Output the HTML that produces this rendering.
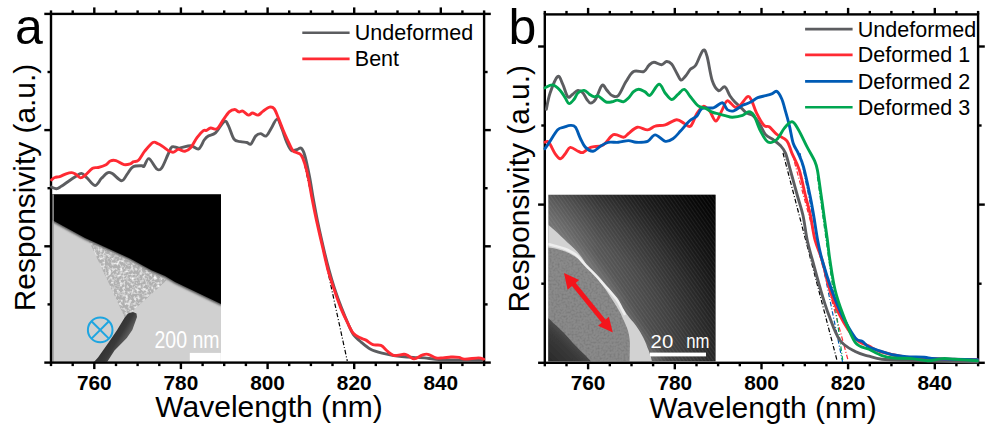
<!DOCTYPE html>
<html><head><meta charset="utf-8"><style>
html,body{margin:0;padding:0;background:#fff;width:995px;height:435px;overflow:hidden}
svg{display:block}
.tl{font-family:"Liberation Sans",sans-serif;font-weight:bold;font-size:20.8px}
.lg{font-family:"Liberation Sans",sans-serif;font-size:21.5px}
text{font-family:"Liberation Sans",sans-serif}
</style></head><body>
<svg width="995" height="435" viewBox="0 0 995 435">
<defs>
<radialGradient id="gb" gradientUnits="userSpaceOnUse" cx="520" cy="400" r="290">
<stop offset="0.5" stop-color="#8a8a8a"/><stop offset="0.6" stop-color="#7a7a7a"/><stop offset="0.7" stop-color="#5c5c5c"/><stop offset="0.8" stop-color="#333"/><stop offset="0.92" stop-color="#101010"/><stop offset="1" stop-color="#000"/>
</radialGradient>
<linearGradient id="gx" gradientUnits="userSpaceOnUse" x1="548" y1="0" x2="716" y2="0">
<stop offset="0" stop-color="#000" stop-opacity="0"/><stop offset="0.3" stop-color="#000" stop-opacity="0.3"/><stop offset="1" stop-color="#000" stop-opacity="0.6"/>
</linearGradient>
<linearGradient id="gw" gradientUnits="userSpaceOnUse" x1="110" y1="330" x2="128" y2="341">
<stop offset="0" stop-color="#2e2e2e"/><stop offset="0.55" stop-color="#3a3a3a"/><stop offset="1" stop-color="#6a6a6a"/>
</linearGradient>
<linearGradient id="gcore" gradientUnits="userSpaceOnUse" x1="550" y1="362" x2="575" y2="335">
<stop offset="0" stop-color="#2a2a2a"/><stop offset="0.6" stop-color="#3a3a3a"/><stop offset="1" stop-color="#555"/>
</linearGradient>
<pattern id="lat" patternUnits="userSpaceOnUse" width="3" height="3" patternTransform="rotate(55)">
<rect x="0" y="0" width="3" height="1" fill="#fff" fill-opacity="0.07"/>
</pattern>
<filter id="bl1" x="-10%" y="-10%" width="120%" height="120%"><feGaussianBlur stdDeviation="0.7"/></filter>
<filter id="bl3" x="-20%" y="-20%" width="140%" height="140%"><feGaussianBlur stdDeviation="5"/></filter>
<filter id="nz2" x="0" y="0" width="100%" height="100%">
<feTurbulence type="fractalNoise" baseFrequency="0.5" numOctaves="2" seed="7" result="t"/>
<feColorMatrix in="t" type="matrix" values="0 0 0 0 0  0 0 0 0 0  0 0 0 0 0  0 0 0 -0.6 0.35" result="n"/>
<feComposite in="n" in2="SourceGraphic" operator="in" result="nn"/>
<feMerge><feMergeNode in="SourceGraphic"/><feMergeNode in="nn"/></feMerge>
</filter>
<filter id="nz" x="0" y="0" width="100%" height="100%">
<feTurbulence type="fractalNoise" baseFrequency="0.35" numOctaves="2" seed="4" result="t"/>
<feColorMatrix in="t" type="matrix" values="0 0 0 0 1  0 0 0 0 1  0 0 0 0 1  0 0 0 -2.2 1.25" result="n"/>
<feComposite in="n" in2="SourceGraphic" operator="in" result="nn"/>
<feMerge><feMergeNode in="SourceGraphic"/><feMergeNode in="nn"/></feMerge>
</filter>
<filter id="bl" x="-10%" y="-10%" width="120%" height="120%"><feGaussianBlur stdDeviation="1.2"/></filter>
<clipPath id="ca"><rect x="52.2" y="194.3" width="168.8" height="167.5"/></clipPath>
<clipPath id="cb"><rect x="548.3" y="194.8" width="167.2" height="166.5"/></clipPath>
</defs>
<rect width="995" height="435" fill="#fff"/>
<g clip-path="url(#ca)">
<rect x="52" y="194" width="170" height="170" fill="#d0d0d0"/>
<polygon points="88.9,240.9 167,280 125,318" fill="#b0b0b0" filter="url(#nz)"/>
<polyline points="52,220 85,237.9 129.9,258.4 151.4,270.2 165,276 175,281.9 222,304.5" fill="none" stroke="#444" stroke-width="3" filter="url(#bl)"/>
<polygon points="52,194 222,194 222,304.5 175,281.9 165,276 151.4,270.2 129.9,258.4 85,237.9 52,220" fill="#000" filter="url(#bl1)"/>
<rect x="52.2" y="194.3" width="1.6" height="168" fill="#a0a0a0"/>
<polygon points="124.7,317.4 128,313.5 133,312 136.5,313.5 137,317 132.3,329.9 126.8,338.1 114.5,350.6 106.5,363 93,363 98,357.5 108.8,342.3 117.1,329.9" fill="url(#gw)"/>
<circle cx="100.2" cy="329.9" r="12.3" fill="none" stroke="#1ea5e0" stroke-width="2"/>
<line x1="91.5" y1="321.2" x2="108.9" y2="338.6" stroke="#1ea5e0" stroke-width="2"/>
<line x1="108.9" y1="321.2" x2="91.5" y2="338.6" stroke="#1ea5e0" stroke-width="2"/>
<text x="154.5" y="348" font-size="24.5" fill="#fff" textLength="65" lengthAdjust="spacingAndGlyphs">200 nm</text>
<rect x="189.8" y="352.9" width="31" height="8" fill="#fff"/>
</g>
<rect x="546.5" y="193.3" width="170.5" height="169.5" fill="#fff"/>
<g clip-path="url(#cb)">
<rect x="548" y="194" width="170" height="170" fill="url(#gb)"/>
<rect x="548" y="194" width="170" height="170" fill="url(#gx)"/>
<rect x="548" y="194" width="170" height="170" fill="url(#lat)"/>
<path d="M548,232 C565,238 578,246 590,258 C602,270 615,288 625,306 C635,322 650,340 664,364 L548,364 Z" fill="#8e8e8e" opacity="0.45" filter="url(#bl3)"/>
<path d="M548,224.7 C556,231 566,241 573.6,248.1 C580,254 585,262 588.3,267.9 C595,275 602,282 607.6,288.6 C614,296 619,304 624,310 C628,316 631,320 633.6,322.4 C637,327 640,331 641.7,334.8 C644,339 646,343 647.3,347.2 C649,351 651,356 652.5,364 L548,364 Z" fill="#d2d2d2"/>
<path d="M548,247.4 C554,247.8 560,249.5 565.3,251.6 C572,254.5 578,258 581.9,261.9 C586,265 588,268 590.1,270.2 C597,277 608,292 614.3,302.8 C619,310 622,316 622.8,318.5 C626,325 628,330 628.5,332.8 C629.5,337 630,342 629.9,342.7 L629.5,364 L548,364 Z" fill="#8a8a8a" filter="url(#nz2)"/>
<path d="M548,244 C556,246 562,247.5 566.7,249.5 C571,251.5 575,253.5 577.7,256.4 C582,261 585,265 588.3,267.9 C592,271.5 595,274.5 597.9,277.6 C601,281 604,285 607.6,288.6 C611,292.5 613,295 615.9,298.3 C618,301 620,305 621.4,307.9 C623,311 624,313 625,315" fill="none" stroke="#eeeeee" stroke-width="2.6" filter="url(#bl1)"/>
<path d="M548,318 C551,320 552,322 554.8,324.3 C558,327 560,329.5 563.6,332.4 C567,336 570,339.5 572.5,342.6 C576,346 578,348.5 581.3,351.5 C584,354 587,357 590.1,360.3 L592,364 L548,364 Z" fill="url(#gcore)" filter="url(#bl1)"/>
<text x="650.6" y="348.2" font-size="19" fill="#fff" textLength="22.6" lengthAdjust="spacingAndGlyphs">20</text>
<text x="686.2" y="348.2" font-size="19.5" fill="#fff" textLength="23.2" lengthAdjust="spacingAndGlyphs">nm</text>
<rect x="650" y="352.6" width="56" height="3.8" fill="#fff"/>
<line x1="571" y1="281" x2="606" y2="324" stroke="#f4151c" stroke-width="5"/>
<polygon points="564,273.1 579.2,280 567.6,289.8" fill="#f4151c"/>
<polygon points="612.8,332.4 598.1,325.7 608.9,316.7" fill="#f4151c"/>
</g>
<g font-family="Liberation Sans, sans-serif">
<rect x="51.0" y="13.9" width="433.1" height="348.7" fill="none" stroke="#000" stroke-width="2.4"/>
<line x1="51.0" y1="362.6" x2="51.0" y2="366.1" stroke="#000" stroke-width="2.4"/>
<line x1="51.0" y1="13.9" x2="51.0" y2="10.4" stroke="#000" stroke-width="2.4"/>
<line x1="72.7" y1="362.6" x2="72.7" y2="366.1" stroke="#000" stroke-width="2.4"/>
<line x1="72.7" y1="13.9" x2="72.7" y2="10.4" stroke="#000" stroke-width="2.4"/>
<line x1="94.3" y1="362.6" x2="94.3" y2="369.1" stroke="#000" stroke-width="2.4"/>
<line x1="94.3" y1="13.9" x2="94.3" y2="7.4" stroke="#000" stroke-width="2.4"/>
<line x1="116.0" y1="362.6" x2="116.0" y2="366.1" stroke="#000" stroke-width="2.4"/>
<line x1="116.0" y1="13.9" x2="116.0" y2="10.4" stroke="#000" stroke-width="2.4"/>
<line x1="137.6" y1="362.6" x2="137.6" y2="366.1" stroke="#000" stroke-width="2.4"/>
<line x1="137.6" y1="13.9" x2="137.6" y2="10.4" stroke="#000" stroke-width="2.4"/>
<line x1="159.3" y1="362.6" x2="159.3" y2="366.1" stroke="#000" stroke-width="2.4"/>
<line x1="159.3" y1="13.9" x2="159.3" y2="10.4" stroke="#000" stroke-width="2.4"/>
<line x1="180.9" y1="362.6" x2="180.9" y2="369.1" stroke="#000" stroke-width="2.4"/>
<line x1="180.9" y1="13.9" x2="180.9" y2="7.4" stroke="#000" stroke-width="2.4"/>
<line x1="202.6" y1="362.6" x2="202.6" y2="366.1" stroke="#000" stroke-width="2.4"/>
<line x1="202.6" y1="13.9" x2="202.6" y2="10.4" stroke="#000" stroke-width="2.4"/>
<line x1="224.2" y1="362.6" x2="224.2" y2="366.1" stroke="#000" stroke-width="2.4"/>
<line x1="224.2" y1="13.9" x2="224.2" y2="10.4" stroke="#000" stroke-width="2.4"/>
<line x1="245.9" y1="362.6" x2="245.9" y2="366.1" stroke="#000" stroke-width="2.4"/>
<line x1="245.9" y1="13.9" x2="245.9" y2="10.4" stroke="#000" stroke-width="2.4"/>
<line x1="267.6" y1="362.6" x2="267.6" y2="369.1" stroke="#000" stroke-width="2.4"/>
<line x1="267.6" y1="13.9" x2="267.6" y2="7.4" stroke="#000" stroke-width="2.4"/>
<line x1="289.2" y1="362.6" x2="289.2" y2="366.1" stroke="#000" stroke-width="2.4"/>
<line x1="289.2" y1="13.9" x2="289.2" y2="10.4" stroke="#000" stroke-width="2.4"/>
<line x1="310.9" y1="362.6" x2="310.9" y2="366.1" stroke="#000" stroke-width="2.4"/>
<line x1="310.9" y1="13.9" x2="310.9" y2="10.4" stroke="#000" stroke-width="2.4"/>
<line x1="332.5" y1="362.6" x2="332.5" y2="366.1" stroke="#000" stroke-width="2.4"/>
<line x1="332.5" y1="13.9" x2="332.5" y2="10.4" stroke="#000" stroke-width="2.4"/>
<line x1="354.2" y1="362.6" x2="354.2" y2="369.1" stroke="#000" stroke-width="2.4"/>
<line x1="354.2" y1="13.9" x2="354.2" y2="7.4" stroke="#000" stroke-width="2.4"/>
<line x1="375.8" y1="362.6" x2="375.8" y2="366.1" stroke="#000" stroke-width="2.4"/>
<line x1="375.8" y1="13.9" x2="375.8" y2="10.4" stroke="#000" stroke-width="2.4"/>
<line x1="397.5" y1="362.6" x2="397.5" y2="366.1" stroke="#000" stroke-width="2.4"/>
<line x1="397.5" y1="13.9" x2="397.5" y2="10.4" stroke="#000" stroke-width="2.4"/>
<line x1="419.1" y1="362.6" x2="419.1" y2="366.1" stroke="#000" stroke-width="2.4"/>
<line x1="419.1" y1="13.9" x2="419.1" y2="10.4" stroke="#000" stroke-width="2.4"/>
<line x1="440.8" y1="362.6" x2="440.8" y2="369.1" stroke="#000" stroke-width="2.4"/>
<line x1="440.8" y1="13.9" x2="440.8" y2="7.4" stroke="#000" stroke-width="2.4"/>
<line x1="462.4" y1="362.6" x2="462.4" y2="366.1" stroke="#000" stroke-width="2.4"/>
<line x1="462.4" y1="13.9" x2="462.4" y2="10.4" stroke="#000" stroke-width="2.4"/>
<line x1="484.1" y1="362.6" x2="484.1" y2="366.1" stroke="#000" stroke-width="2.4"/>
<line x1="484.1" y1="13.9" x2="484.1" y2="10.4" stroke="#000" stroke-width="2.4"/>
<line x1="51.0" y1="13.9" x2="44.3" y2="13.9" stroke="#000" stroke-width="2.4"/>
<line x1="484.1" y1="13.9" x2="490.8" y2="13.9" stroke="#000" stroke-width="2.4"/>
<line x1="51.0" y1="130.1" x2="44.3" y2="130.1" stroke="#000" stroke-width="2.4"/>
<line x1="484.1" y1="130.1" x2="490.8" y2="130.1" stroke="#000" stroke-width="2.4"/>
<line x1="51.0" y1="246.3" x2="44.3" y2="246.3" stroke="#000" stroke-width="2.4"/>
<line x1="484.1" y1="246.3" x2="490.8" y2="246.3" stroke="#000" stroke-width="2.4"/>
<line x1="51.0" y1="362.6" x2="44.3" y2="362.6" stroke="#000" stroke-width="2.4"/>
<line x1="484.1" y1="362.6" x2="490.8" y2="362.6" stroke="#000" stroke-width="2.4"/>
<line x1="51.0" y1="72.0" x2="47.5" y2="72.0" stroke="#000" stroke-width="2.4"/>
<line x1="484.1" y1="72.0" x2="487.6" y2="72.0" stroke="#000" stroke-width="2.4"/>
<line x1="51.0" y1="188.2" x2="47.5" y2="188.2" stroke="#000" stroke-width="2.4"/>
<line x1="484.1" y1="188.2" x2="487.6" y2="188.2" stroke="#000" stroke-width="2.4"/>
<line x1="51.0" y1="304.4" x2="47.5" y2="304.4" stroke="#000" stroke-width="2.4"/>
<line x1="484.1" y1="304.4" x2="487.6" y2="304.4" stroke="#000" stroke-width="2.4"/>
<text x="94.3" y="390.3" class="tl" text-anchor="middle">760</text>
<text x="180.9" y="390.3" class="tl" text-anchor="middle">780</text>
<text x="267.6" y="390.3" class="tl" text-anchor="middle">800</text>
<text x="354.2" y="390.3" class="tl" text-anchor="middle">820</text>
<text x="440.8" y="390.3" class="tl" text-anchor="middle">840</text>
<rect x="544.8" y="14.4" width="433.3" height="348.4" fill="none" stroke="#000" stroke-width="2.4"/>
<line x1="544.8" y1="362.8" x2="544.8" y2="366.3" stroke="#000" stroke-width="2.4"/>
<line x1="544.8" y1="14.4" x2="544.8" y2="10.9" stroke="#000" stroke-width="2.4"/>
<line x1="566.5" y1="362.8" x2="566.5" y2="366.3" stroke="#000" stroke-width="2.4"/>
<line x1="566.5" y1="14.4" x2="566.5" y2="10.9" stroke="#000" stroke-width="2.4"/>
<line x1="588.1" y1="362.8" x2="588.1" y2="369.3" stroke="#000" stroke-width="2.4"/>
<line x1="588.1" y1="14.4" x2="588.1" y2="7.9" stroke="#000" stroke-width="2.4"/>
<line x1="609.8" y1="362.8" x2="609.8" y2="366.3" stroke="#000" stroke-width="2.4"/>
<line x1="609.8" y1="14.4" x2="609.8" y2="10.9" stroke="#000" stroke-width="2.4"/>
<line x1="631.5" y1="362.8" x2="631.5" y2="366.3" stroke="#000" stroke-width="2.4"/>
<line x1="631.5" y1="14.4" x2="631.5" y2="10.9" stroke="#000" stroke-width="2.4"/>
<line x1="653.1" y1="362.8" x2="653.1" y2="366.3" stroke="#000" stroke-width="2.4"/>
<line x1="653.1" y1="14.4" x2="653.1" y2="10.9" stroke="#000" stroke-width="2.4"/>
<line x1="674.8" y1="362.8" x2="674.8" y2="369.3" stroke="#000" stroke-width="2.4"/>
<line x1="674.8" y1="14.4" x2="674.8" y2="7.9" stroke="#000" stroke-width="2.4"/>
<line x1="696.5" y1="362.8" x2="696.5" y2="366.3" stroke="#000" stroke-width="2.4"/>
<line x1="696.5" y1="14.4" x2="696.5" y2="10.9" stroke="#000" stroke-width="2.4"/>
<line x1="718.1" y1="362.8" x2="718.1" y2="366.3" stroke="#000" stroke-width="2.4"/>
<line x1="718.1" y1="14.4" x2="718.1" y2="10.9" stroke="#000" stroke-width="2.4"/>
<line x1="739.8" y1="362.8" x2="739.8" y2="366.3" stroke="#000" stroke-width="2.4"/>
<line x1="739.8" y1="14.4" x2="739.8" y2="10.9" stroke="#000" stroke-width="2.4"/>
<line x1="761.5" y1="362.8" x2="761.5" y2="369.3" stroke="#000" stroke-width="2.4"/>
<line x1="761.5" y1="14.4" x2="761.5" y2="7.9" stroke="#000" stroke-width="2.4"/>
<line x1="783.1" y1="362.8" x2="783.1" y2="366.3" stroke="#000" stroke-width="2.4"/>
<line x1="783.1" y1="14.4" x2="783.1" y2="10.9" stroke="#000" stroke-width="2.4"/>
<line x1="804.8" y1="362.8" x2="804.8" y2="366.3" stroke="#000" stroke-width="2.4"/>
<line x1="804.8" y1="14.4" x2="804.8" y2="10.9" stroke="#000" stroke-width="2.4"/>
<line x1="826.4" y1="362.8" x2="826.4" y2="366.3" stroke="#000" stroke-width="2.4"/>
<line x1="826.4" y1="14.4" x2="826.4" y2="10.9" stroke="#000" stroke-width="2.4"/>
<line x1="848.1" y1="362.8" x2="848.1" y2="369.3" stroke="#000" stroke-width="2.4"/>
<line x1="848.1" y1="14.4" x2="848.1" y2="7.9" stroke="#000" stroke-width="2.4"/>
<line x1="869.8" y1="362.8" x2="869.8" y2="366.3" stroke="#000" stroke-width="2.4"/>
<line x1="869.8" y1="14.4" x2="869.8" y2="10.9" stroke="#000" stroke-width="2.4"/>
<line x1="891.4" y1="362.8" x2="891.4" y2="366.3" stroke="#000" stroke-width="2.4"/>
<line x1="891.4" y1="14.4" x2="891.4" y2="10.9" stroke="#000" stroke-width="2.4"/>
<line x1="913.1" y1="362.8" x2="913.1" y2="366.3" stroke="#000" stroke-width="2.4"/>
<line x1="913.1" y1="14.4" x2="913.1" y2="10.9" stroke="#000" stroke-width="2.4"/>
<line x1="934.8" y1="362.8" x2="934.8" y2="369.3" stroke="#000" stroke-width="2.4"/>
<line x1="934.8" y1="14.4" x2="934.8" y2="7.9" stroke="#000" stroke-width="2.4"/>
<line x1="956.4" y1="362.8" x2="956.4" y2="366.3" stroke="#000" stroke-width="2.4"/>
<line x1="956.4" y1="14.4" x2="956.4" y2="10.9" stroke="#000" stroke-width="2.4"/>
<line x1="978.1" y1="362.8" x2="978.1" y2="366.3" stroke="#000" stroke-width="2.4"/>
<line x1="978.1" y1="14.4" x2="978.1" y2="10.9" stroke="#000" stroke-width="2.4"/>
<line x1="544.8" y1="46.5" x2="538.1" y2="46.5" stroke="#000" stroke-width="2.4"/>
<line x1="978.1" y1="46.5" x2="984.8" y2="46.5" stroke="#000" stroke-width="2.4"/>
<line x1="544.8" y1="204.6" x2="538.1" y2="204.6" stroke="#000" stroke-width="2.4"/>
<line x1="978.1" y1="204.6" x2="984.8" y2="204.6" stroke="#000" stroke-width="2.4"/>
<line x1="544.8" y1="362.8" x2="538.1" y2="362.8" stroke="#000" stroke-width="2.4"/>
<line x1="978.1" y1="362.8" x2="984.8" y2="362.8" stroke="#000" stroke-width="2.4"/>
<line x1="544.8" y1="125.5" x2="541.3" y2="125.5" stroke="#000" stroke-width="2.4"/>
<line x1="978.1" y1="125.5" x2="981.6" y2="125.5" stroke="#000" stroke-width="2.4"/>
<line x1="544.8" y1="283.7" x2="541.3" y2="283.7" stroke="#000" stroke-width="2.4"/>
<line x1="978.1" y1="283.7" x2="981.6" y2="283.7" stroke="#000" stroke-width="2.4"/>
<text x="588.1" y="390.3" class="tl" text-anchor="middle">760</text>
<text x="674.8" y="390.3" class="tl" text-anchor="middle">780</text>
<text x="761.5" y="390.3" class="tl" text-anchor="middle">800</text>
<text x="848.1" y="390.3" class="tl" text-anchor="middle">820</text>
<text x="934.8" y="390.3" class="tl" text-anchor="middle">840</text>
<line x1="302.5" y1="155" x2="347.3" y2="361" stroke="#000" stroke-width="1.2" stroke-dasharray="4.5,2,1,2"/>
<line x1="783" y1="153" x2="836.9" y2="360" stroke="#000" stroke-width="1.2" stroke-dasharray="4.5,2,1,2"/>
<line x1="792" y1="153" x2="848" y2="360" stroke="#ff2a33" stroke-width="1.2" stroke-dasharray="4.5,2,1,2"/>
<line x1="800" y1="153" x2="842.6" y2="362" stroke="#005bb5" stroke-width="1.2" stroke-dasharray="4.5,2,1,2"/>
<line x1="817.4" y1="177" x2="842.7" y2="360" stroke="#00a651" stroke-width="1.2" stroke-dasharray="4.5,2,1,2"/>
<path d="M51.6,187.1 C52.4,187.4 54.8,188.8 56.4,188.7 C58.0,188.6 59.1,187.6 61.3,186.3 C63.4,185.0 66.9,182.3 69.3,180.7 C71.7,179.1 73.7,177.8 75.7,176.6 C77.7,175.4 79.5,173.2 81.4,173.4 C83.3,173.6 84.7,175.9 87.0,177.9 C89.3,179.9 92.6,185.4 95.0,185.5 C97.4,185.6 99.3,180.5 101.5,178.3 C103.7,176.2 106.0,173.3 107.9,172.6 C109.8,171.8 110.4,172.5 112.7,173.8 C115.0,175.2 119.2,180.6 121.6,180.7 C124.0,180.8 125.3,176.5 127.2,174.2 C129.1,171.9 130.4,168.3 132.8,166.9 C135.2,165.5 139.8,165.8 141.7,165.7 C143.6,165.6 142.9,167.4 144.1,166.2 C145.3,165.0 146.8,158.1 148.9,158.6 C151.1,159.1 154.8,167.6 157.0,169.1 C159.2,170.6 160.0,170.2 161.8,167.8 C163.6,165.4 166.3,158.0 168.0,154.5 C169.7,151.0 170.2,147.9 172.1,146.8 C174.0,145.7 176.2,148.3 179.3,148.1 C182.4,147.9 187.4,145.6 190.6,145.7 C193.8,145.8 196.3,149.8 198.6,148.9 C200.9,148.0 202.6,142.2 204.2,140.0 C205.8,137.8 206.4,137.2 208.3,136.0 C210.2,134.8 212.8,135.2 215.5,132.8 C218.2,130.4 222.2,122.7 224.3,121.5 C226.5,120.3 226.8,122.6 228.4,125.6 C230.0,128.5 232.0,136.5 234.0,139.2 C236.0,141.9 238.2,141.0 240.4,141.6 C242.6,142.2 245.2,142.1 246.9,142.5 C248.7,142.9 249.4,145.2 250.9,144.1 C252.4,143.0 254.1,137.8 255.7,136.0 C257.3,134.2 258.8,133.6 260.5,133.6 C262.2,133.6 264.4,136.8 266.2,136.0 C267.9,135.2 269.2,131.6 271.0,128.8 C272.8,126.0 275.3,119.1 277.1,119.1 C278.9,119.1 280.3,125.0 281.9,128.8 C283.5,132.6 285.1,138.5 286.7,142.1 C288.3,145.7 289.7,149.3 291.5,150.5 C293.3,151.7 296.0,149.7 297.6,149.3 C299.2,148.9 300.0,147.1 301.2,148.1 C302.4,149.1 303.4,150.5 304.8,155.3 C306.2,160.1 308.2,169.8 309.6,177.0 C311.0,184.2 312.0,191.5 313.3,198.8 C314.6,206.1 315.8,212.8 317.5,221.0 C319.2,229.2 321.6,239.8 323.5,248.0 C325.4,256.2 327.2,263.3 329.0,270.0 C330.8,276.7 332.4,282.1 334.5,288.4 C336.6,294.7 339.2,302.0 341.5,307.9 C343.8,313.8 346.0,319.1 348.0,323.5 C350.0,327.9 351.1,331.2 353.3,334.4 C355.5,337.5 358.5,339.9 361.4,342.4 C364.3,344.9 367.2,347.5 370.6,349.3 C374.1,351.1 378.3,352.2 382.1,353.2 C385.9,354.2 388.5,354.8 393.6,355.5 C398.8,356.2 407.9,357.0 413.0,357.4 C418.1,357.8 419.7,357.5 424.5,357.9 C429.3,358.3 432.1,359.3 441.7,359.7 C451.3,360.1 475.3,360.1 482.0,360.2" fill="none" stroke="#5c5d60" stroke-width="2.90" stroke-linejoin="round" stroke-linecap="round"/>
<path d="M51.6,179.9 C52.1,179.5 53.4,178.1 54.8,177.5 C56.1,176.9 57.8,177.2 59.7,176.6 C61.6,176.0 64.1,174.5 66.1,173.8 C68.1,173.1 70.1,172.5 71.7,172.6 C73.3,172.7 74.2,173.3 75.7,174.2 C77.2,175.1 79.0,177.8 80.6,177.9 C82.2,178.0 83.4,176.6 85.4,175.0 C87.4,173.4 90.4,169.6 92.6,168.3 C94.8,167.1 96.1,168.0 98.3,167.5 C100.5,167.0 103.5,166.2 105.5,165.1 C107.5,164.0 108.6,161.8 110.3,161.0 C112.0,160.2 113.6,160.0 115.9,160.6 C118.2,161.2 121.6,164.1 124.0,164.6 C126.4,165.1 128.8,164.3 130.4,163.8 C132.0,163.3 132.2,162.3 133.6,161.7 C134.9,161.1 136.6,162.0 138.5,160.2 C140.4,158.4 142.5,153.8 144.9,150.9 C147.3,148.0 150.8,143.7 152.9,142.5 C155.1,141.3 156.2,143.0 157.8,143.7 C159.4,144.3 160.6,145.1 162.6,146.4 C164.6,147.7 167.8,150.4 169.7,151.3 C171.5,152.2 172.2,152.4 173.7,152.1 C175.2,151.8 176.6,149.5 178.5,149.4 C180.4,149.3 182.9,151.6 184.9,151.3 C186.9,151.0 188.6,150.1 190.6,147.8 C192.6,145.5 194.9,140.4 197.0,137.6 C199.1,134.8 201.8,131.9 203.4,130.7 C205.0,129.5 205.4,130.8 206.6,130.4 C207.8,130.0 208.9,128.3 210.7,128.0 C212.4,127.7 215.1,130.0 217.1,128.8 C219.1,127.6 220.7,123.5 222.7,120.7 C224.7,117.9 227.2,113.8 229.2,111.9 C231.2,110.0 233.2,109.5 234.8,109.5 C236.4,109.5 237.5,111.6 238.8,111.9 C240.1,112.2 241.2,110.6 242.8,111.1 C244.4,111.6 246.9,114.8 248.5,115.1 C250.1,115.4 250.9,113.0 252.5,113.0 C254.1,113.0 256.4,115.4 258.1,115.1 C259.8,114.8 261.0,112.7 262.9,111.4 C264.8,110.1 267.5,107.5 269.4,107.1 C271.3,106.6 272.7,106.9 274.2,108.7 C275.7,110.5 276.8,114.4 278.3,117.9 C279.8,121.5 281.5,126.2 283.1,130.0 C284.7,133.8 286.3,137.4 287.9,140.8 C289.5,144.2 291.2,148.5 292.8,150.5 C294.4,152.5 296.2,152.1 297.6,152.9 C299.0,153.7 300.0,153.5 301.2,155.3 C302.4,157.1 303.6,160.0 304.8,163.8 C306.0,167.6 307.2,172.5 308.4,178.3 C309.6,184.1 310.7,191.7 312.1,198.8 C313.5,205.9 314.8,212.8 316.6,221.0 C318.4,229.2 320.9,239.8 322.8,248.0 C324.7,256.2 326.2,263.3 328.0,270.0 C329.8,276.7 331.7,282.1 333.8,288.4 C335.9,294.7 338.4,302.1 340.7,307.9 C343.0,313.6 345.5,318.7 347.6,322.9 C349.7,327.1 351.2,330.7 353.3,333.2 C355.4,335.7 358.1,336.6 360.2,337.8 C362.3,339.0 363.9,339.0 366.0,340.1 C368.1,341.2 370.4,343.8 372.9,344.7 C375.4,345.6 378.6,344.4 380.9,345.4 C383.2,346.4 385.2,349.2 386.7,350.5 C388.2,351.8 388.7,352.4 390.0,353.3 C391.3,354.2 392.3,355.4 394.6,355.6 C396.9,355.8 401.7,354.4 403.8,354.3 C405.9,354.2 405.5,354.3 407.2,355.1 C408.9,355.9 411.6,358.9 414.1,358.9 C416.6,358.9 419.9,355.9 422.2,355.1 C424.5,354.3 425.6,353.8 427.9,354.3 C430.2,354.8 433.5,357.3 436.0,357.9 C438.5,358.5 440.4,358.0 442.9,357.9 C445.4,357.8 448.2,357.1 450.9,357.0 C453.6,356.9 456.7,357.0 459.0,357.4 C461.3,357.8 461.4,359.0 464.7,359.1 C467.9,359.2 475.3,357.9 478.5,357.9 C481.7,357.9 482.8,358.9 483.7,359.1" fill="none" stroke="#ff2a33" stroke-width="2.90" stroke-linejoin="round" stroke-linecap="round"/>
<path d="M546.3,109.4 C546.9,106.7 548.2,98.5 550.1,93.0 C552.0,87.5 555.6,78.0 557.7,76.5 C559.8,75.0 561.0,80.7 562.7,84.1 C564.4,87.5 566.1,95.1 567.8,96.8 C569.5,98.5 571.1,95.3 572.8,94.2 C574.5,93.1 576.2,90.6 577.9,90.4 C579.6,90.2 581.5,91.5 583.0,93.0 C584.5,94.5 585.5,97.6 586.8,99.3 C588.1,101.0 589.1,103.1 590.6,103.1 C592.1,103.1 593.7,102.2 595.6,99.3 C597.5,96.3 600.1,86.9 602.0,85.4 C603.9,83.9 605.3,88.7 607.0,90.4 C608.7,92.1 610.2,94.7 612.1,95.5 C614.0,96.3 616.1,97.8 618.4,95.5 C620.7,93.2 623.5,85.6 626.0,81.6 C628.5,77.6 630.6,73.2 633.6,71.5 C636.6,69.8 641.2,72.6 643.8,71.6 C646.3,70.6 647.2,66.8 648.9,65.3 C650.6,63.8 651.8,62.4 653.9,62.3 C656.0,62.2 659.4,64.9 661.5,64.8 C663.6,64.7 664.9,61.6 666.6,61.5 C668.3,61.4 669.9,62.1 671.6,64.0 C673.3,65.9 675.1,70.2 676.7,72.9 C678.3,75.6 679.5,79.5 681.0,80.0 C682.5,80.5 684.0,77.8 685.6,76.0 C687.2,74.2 688.9,70.9 690.6,69.1 C692.3,67.3 693.6,68.4 695.7,65.3 C697.8,62.2 701.1,51.8 703.0,50.3 C704.9,48.8 705.6,51.5 707.1,56.5 C708.6,61.5 710.3,74.8 712.2,80.5 C714.1,86.2 716.4,89.5 718.5,90.6 C720.6,91.6 722.9,85.9 724.8,86.8 C726.7,87.7 728.2,93.2 729.9,95.7 C731.6,98.2 733.2,100.2 734.9,102.0 C736.6,103.8 738.2,104.8 740.1,106.6 C742.0,108.4 744.3,111.4 746.4,112.9 C748.5,114.4 750.6,113.7 752.7,115.4 C754.8,117.1 757.0,119.8 759.1,123.0 C761.2,126.2 763.1,131.7 765.4,134.4 C767.7,137.2 770.5,137.6 773.0,139.5 C775.5,141.4 778.5,143.5 780.6,145.8 C782.7,148.1 784.0,149.4 785.6,153.4 C787.2,157.4 788.4,163.1 790.3,170.0 C792.2,176.9 795.1,187.5 797.2,195.0 C799.3,202.5 801.2,207.5 802.9,215.0 C804.6,222.5 805.6,232.5 807.2,240.0 C808.8,247.5 810.1,251.7 812.4,260.0 C814.6,268.3 818.0,280.8 820.7,290.0 C823.4,299.2 825.6,306.7 828.8,315.0 C832.0,323.3 835.3,333.9 839.7,340.0 C844.1,346.1 850.3,348.9 855.2,351.6 C860.1,354.3 864.5,354.9 869.0,356.2 C873.5,357.5 875.8,358.5 882.0,359.2 C888.2,359.9 890.3,359.9 906.2,360.4 C922.1,360.9 965.5,361.7 977.4,362.0" fill="none" stroke="#5c5d60" stroke-width="2.90" stroke-linejoin="round" stroke-linecap="round"/>
<path d="M545.0,142.3 C545.6,142.3 547.1,140.4 548.8,142.3 C550.5,144.2 553.2,150.9 555.1,153.7 C557.0,156.4 558.5,158.8 560.2,158.8 C561.9,158.8 563.6,155.6 565.3,153.7 C567.0,151.8 568.2,147.8 570.3,147.4 C572.4,147.0 575.8,150.3 577.9,151.2 C580.0,152.0 580.9,153.1 583.0,152.5 C585.1,151.9 587.2,148.7 590.6,147.4 C594.0,146.1 599.4,147.0 603.2,144.9 C607.0,142.8 610.0,136.0 613.4,134.7 C616.8,133.4 621.0,137.5 623.5,137.3 C626.0,137.1 626.2,135.2 628.5,133.5 C630.8,131.8 634.2,127.8 637.4,127.2 C640.6,126.6 644.6,130.1 647.6,129.9 C650.6,129.7 652.2,126.9 655.2,126.1 C658.2,125.2 661.7,125.9 665.3,124.8 C668.9,123.7 673.5,119.9 676.7,119.7 C679.9,119.5 682.0,122.4 684.3,123.5 C686.6,124.6 688.5,127.8 690.6,126.1 C692.7,124.4 694.9,116.7 697.0,113.4 C699.1,110.1 701.2,106.7 703.3,106.3 C705.4,105.9 707.5,108.5 709.6,110.9 C711.7,113.4 713.9,121.2 716.0,121.0 C718.1,120.8 720.4,113.0 722.3,109.6 C724.2,106.2 725.2,101.2 727.3,100.8 C729.4,100.4 732.8,106.3 734.9,107.1 C737.0,107.8 738.0,107.1 740.1,105.3 C742.2,103.5 745.8,97.3 747.7,96.5 C749.6,95.7 750.0,97.6 751.5,100.3 C753.0,103.0 754.4,108.7 756.5,112.9 C758.6,117.1 762.0,123.3 764.1,125.6 C766.2,127.9 767.1,125.3 769.2,126.8 C771.3,128.3 773.8,132.1 776.8,134.4 C779.8,136.7 784.4,137.6 786.9,140.8 C789.4,144.0 789.9,148.5 792.0,153.4 C794.1,158.3 797.1,163.1 799.3,170.0 C801.5,176.9 803.4,187.5 805.3,195.0 C807.1,202.5 808.8,207.5 810.4,215.0 C812.0,222.5 813.0,232.5 815.0,240.0 C817.0,247.5 819.6,251.7 822.1,260.0 C824.6,268.3 827.0,280.8 829.9,290.0 C832.8,299.2 835.5,306.9 839.7,315.0 C843.9,323.1 850.3,333.3 855.2,338.5 C860.1,343.7 864.9,343.8 869.0,346.0 C873.1,348.2 873.8,349.6 880.0,351.5 C886.2,353.4 895.8,355.9 906.2,357.2 C916.6,358.4 930.5,358.6 942.4,359.0 C954.3,359.4 971.6,359.5 977.4,359.6" fill="none" stroke="#ff2a33" stroke-width="2.90" stroke-linejoin="round" stroke-linecap="round"/>
<path d="M545.0,148.7 C545.9,147.4 548.0,144.3 550.1,141.1 C552.2,137.9 555.4,132.0 557.7,129.7 C560.0,127.4 561.9,127.9 564.0,127.2 C566.1,126.5 568.4,125.4 570.3,125.4 C572.2,125.4 573.7,125.0 575.4,127.2 C577.1,129.4 578.7,135.1 580.4,138.5 C582.1,141.9 583.4,145.3 585.5,147.4 C587.6,149.5 590.6,151.4 593.1,151.2 C595.6,151.0 598.2,147.6 600.7,146.1 C603.2,144.6 605.3,142.9 608.3,142.3 C611.2,141.7 615.0,142.6 618.4,142.3 C621.8,142.0 625.5,140.6 628.5,140.6 C631.5,140.6 632.9,142.2 636.1,142.3 C639.3,142.4 644.4,142.5 647.6,141.3 C650.8,140.1 652.2,134.9 655.2,134.9 C658.2,134.9 662.3,140.7 665.3,141.3 C668.2,141.9 670.4,140.4 672.9,138.7 C675.4,137.0 677.8,134.0 680.5,131.1 C683.2,128.2 686.6,123.5 689.4,121.0 C692.1,118.5 694.9,118.0 697.0,115.9 C699.1,113.8 699.3,109.8 702.0,108.4 C704.7,107.1 710.0,108.7 713.4,107.8 C716.8,106.9 720.0,102.5 722.3,102.8 C724.6,103.1 725.4,108.2 727.3,109.6 C729.2,110.9 731.2,111.6 733.7,110.9 C736.2,110.2 739.9,106.7 742.6,105.3 C745.4,103.9 747.7,103.6 750.2,102.3 C752.7,101.0 755.3,98.8 757.8,97.7 C760.3,96.6 763.1,96.3 765.4,95.7 C767.7,95.1 769.8,94.6 771.7,93.9 C773.6,93.2 775.1,90.6 776.8,91.4 C778.5,92.2 780.3,95.6 781.8,99.0 C783.3,102.4 784.3,107.2 785.6,111.6 C786.9,116.0 788.1,120.3 789.4,125.6 C790.7,130.9 791.7,138.7 793.2,143.3 C794.7,147.9 796.6,149.5 798.3,153.4 C800.0,157.3 801.6,160.1 803.5,167.0 C805.4,173.9 808.2,187.0 809.9,195.0 C811.6,203.0 812.3,207.5 813.6,215.0 C814.9,222.5 816.2,232.5 817.6,240.0 C819.0,247.5 819.8,251.7 822.1,260.0 C824.5,268.3 828.4,280.8 831.7,290.0 C835.0,299.2 838.1,307.0 842.0,315.0 C845.9,323.0 851.9,333.4 855.2,337.8 C858.6,342.2 859.8,339.8 862.1,341.3 C864.4,342.8 866.1,345.4 869.0,347.0 C871.9,348.6 875.5,349.5 879.7,350.8 C883.9,352.1 889.7,354.0 894.1,355.0 C898.5,356.0 901.2,356.4 906.2,356.8 C911.2,357.2 919.3,356.9 924.3,357.2 C929.3,357.5 927.4,358.4 936.3,358.8 C945.1,359.2 970.5,359.6 977.4,359.8" fill="none" stroke="#005bb5" stroke-width="2.90" stroke-linejoin="round" stroke-linecap="round"/>
<path d="M545.0,87.9 C546.3,87.4 550.1,84.5 552.6,84.9 C555.1,85.3 558.1,88.2 560.2,90.4 C562.3,92.6 563.8,95.8 565.3,98.0 C566.8,100.2 567.6,103.4 569.1,103.6 C570.6,103.8 572.6,101.1 574.1,99.3 C575.6,97.5 576.2,94.5 577.9,93.0 C579.6,91.5 582.3,90.2 584.2,90.4 C586.1,90.6 587.6,93.1 589.3,94.2 C591.0,95.3 592.9,96.5 594.4,96.8 C595.9,97.1 596.3,95.2 598.2,96.0 C600.1,96.8 603.5,100.8 605.8,101.8 C608.1,102.8 610.2,102.1 612.1,101.8 C614.0,101.5 615.3,100.1 617.2,100.1 C619.1,100.1 621.6,102.1 623.5,101.8 C625.4,101.5 626.8,99.7 628.5,98.0 C630.2,96.3 631.9,93.2 633.6,91.7 C635.3,90.2 636.8,89.2 638.7,89.2 C640.6,89.2 643.2,90.9 645.1,91.9 C647.0,92.9 647.8,96.5 650.1,95.2 C652.4,93.9 656.5,84.6 659.0,84.3 C661.5,84.0 663.2,90.7 665.3,93.2 C667.4,95.7 669.5,99.3 671.6,99.5 C673.7,99.7 675.9,96.1 678.0,94.4 C680.1,92.7 682.2,89.0 684.3,89.4 C686.4,89.8 688.3,94.3 690.6,97.0 C692.9,99.7 695.7,103.9 698.2,105.8 C700.7,107.7 703.5,107.3 705.8,108.4 C708.1,109.5 710.1,111.3 712.2,112.2 C714.3,113.1 716.2,113.3 718.5,113.9 C720.8,114.5 723.8,115.4 726.1,115.9 C728.4,116.5 729.6,117.3 732.4,117.2 C735.1,117.1 739.9,116.3 742.6,115.4 C745.4,114.5 747.0,111.6 748.9,111.6 C750.8,111.6 752.1,112.2 754.0,115.4 C755.9,118.6 758.0,126.2 760.3,130.6 C762.6,135.0 765.1,140.5 767.9,142.0 C770.6,143.5 774.0,141.8 776.8,139.5 C779.5,137.2 781.9,131.0 784.4,128.1 C786.9,125.1 789.7,121.6 792.0,121.8 C794.3,122.0 795.8,125.2 798.3,129.4 C800.8,133.6 804.5,141.9 807.2,147.1 C809.9,152.3 812.8,156.9 814.5,160.7 C816.2,164.5 816.3,164.3 817.4,170.0 C818.5,175.7 820.0,187.5 821.1,195.0 C822.2,202.5 822.9,207.5 823.9,215.0 C824.9,222.5 826.4,232.5 827.4,240.0 C828.4,247.5 828.6,251.7 829.9,260.0 C831.2,268.3 832.9,280.8 835.1,290.0 C837.3,299.2 839.9,306.3 843.2,315.0 C846.6,323.7 850.9,336.7 855.2,342.4 C859.5,348.1 864.5,347.1 869.0,349.3 C873.5,351.5 877.8,354.2 882.0,355.6 C886.2,357.1 889.1,357.5 894.1,358.0 C899.1,358.5 906.6,358.1 912.2,358.6 C917.8,359.1 922.9,360.8 927.9,360.8 C932.9,360.8 938.0,358.9 942.4,358.6 C946.8,358.3 948.6,358.8 954.4,359.2 C960.2,359.6 973.6,360.5 977.4,360.8" fill="none" stroke="#00a651" stroke-width="2.90" stroke-linejoin="round" stroke-linecap="round"/>
<line x1="302.3" y1="32.8" x2="349.6" y2="32.8" stroke="#5c5d60" stroke-width="2.6"/>
<text x="354.8" y="40.2" class="lg">Undeformed</text>
<line x1="302.3" y1="58.9" x2="349.6" y2="58.9" stroke="#ff2a33" stroke-width="2.6"/>
<text x="354.8" y="66.3" class="lg">Bent</text>
<line x1="805.1" y1="29.1" x2="852.6" y2="29.1" stroke="#5c5d60" stroke-width="2.6"/>
<text x="857.8" y="36.6" class="lg">Undeformed</text>
<line x1="805.1" y1="54.9" x2="852.6" y2="54.9" stroke="#ff2a33" stroke-width="2.6"/>
<text x="857.8" y="62.4" class="lg">Deformed 1</text>
<line x1="805.1" y1="81.4" x2="852.6" y2="81.4" stroke="#005bb5" stroke-width="2.6"/>
<text x="857.8" y="88.9" class="lg">Deformed 2</text>
<line x1="805.1" y1="107.3" x2="852.6" y2="107.3" stroke="#00a651" stroke-width="2.6"/>
<text x="857.8" y="114.8" class="lg">Deformed 3</text>
<text x="15" y="43.9" font-size="50">a</text>
<text x="508.5" y="43.9" font-size="50">b</text>
<text x="269" y="417.3" font-size="30" text-anchor="middle">Wavelength (nm)</text>
<text x="763" y="418.2" font-size="30" text-anchor="middle">Wavelength (nm)</text>
<text transform="translate(34.6,187.5) rotate(-90)" font-size="29.9" text-anchor="middle">Responsivity (a.u.)</text>
<text transform="translate(529,188.8) rotate(-90)" font-size="29.9" text-anchor="middle">Responsivity (a.u.)</text>
</g>
</svg>
</body></html>
